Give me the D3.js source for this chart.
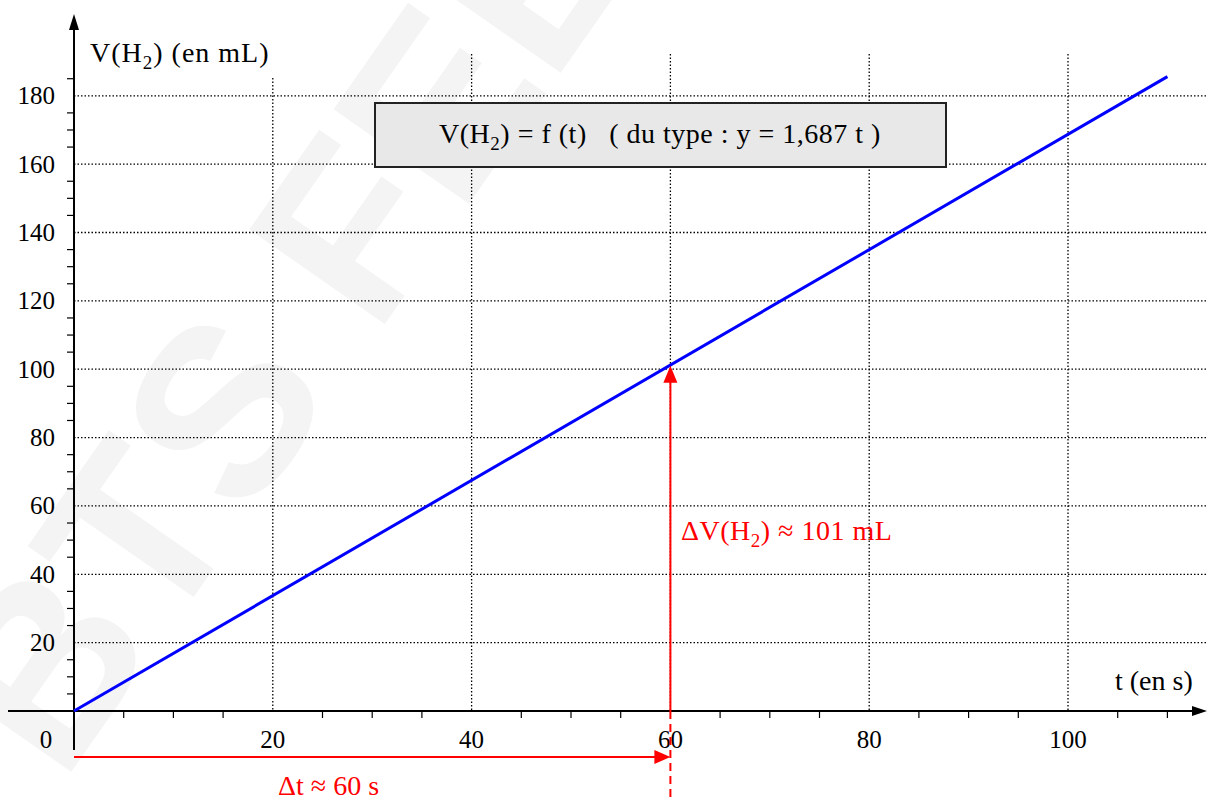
<!DOCTYPE html>
<html><head><meta charset="utf-8">
<script src="https://cdn.jsdelivr.net/npm/d3@7"></script>
<style>
html,body{margin:0;padding:0;background:#fff;}
svg text{font-family:"Liberation Serif","Times New Roman",serif;white-space:pre;}
</style></head>
<body>
<svg id="chart" width="1207" height="800"></svg>
<script>
// ---- data ----
const xTicks = [0, 20, 40, 60, 80, 100];
const yTicks = [20, 40, 60, 80, 100, 120, 140, 160, 180];
const xMinor = [5,10,15,25,30,35,45,50,55,65,70,75,85,90,95,105,110,115];
const yMinor = [5,10,15,25,30,35,45,50,55,65,70,75,85,90,95,105,110,115,125,130,135,145,150,155,165,170,175,185];
const lineT = [0, 110];          // t (s)
const lineV = [0, 185.6];        // V(H2) (mL)
const deltaT = 60;               // s
const deltaV = 101;              // mL
const slopeLabel = "1,687";

const svg = d3.select("#chart");
const x = d3.scaleLinear().domain([0, 100]).range([74, 1068]);
const y = d3.scaleLinear().domain([0, 180]).range([711, 95.8]);
const W = 1207;

// watermark
svg.append("text")
  .attr("transform", "translate(62,785) rotate(-55)")
  .attr("font-size", 240)
  .style("font-family", "'Liberation Sans', Arial, sans-serif")
  .attr("font-weight", "bold")
  .attr("fill", "#f4f4f4")
  .text("BTS FEE");

// grid
const g = svg.append("g");
g.selectAll(".vgrid").data(xTicks.filter(d => d > 0)).join("line")
  .attr("x1", d => x(d)).attr("x2", d => x(d))
  .attr("y1", d => d === 20 ? 78 : 54).attr("y2", y(0))
  .attr("stroke", "#000").attr("stroke-width", 1.3).attr("stroke-dasharray", "1.5,2");
g.selectAll(".hgrid").data(yTicks).join("line")
  .attr("x1", x(0)).attr("x2", W)
  .attr("y1", d => y(d)).attr("y2", d => y(d))
  .attr("stroke", "#000").attr("stroke-width", 1.3).attr("stroke-dasharray", "1.5,2");

// axes
svg.append("line").attr("x1", 8).attr("x2", W - 8).attr("y1", y(0)).attr("y2", y(0))
  .attr("stroke", "#000").attr("stroke-width", 2);
svg.append("path").attr("d", `M${W},${y(0)} L${W-15},${y(0)-5} L${W-15},${y(0)+5} Z`).attr("fill", "#000");
svg.append("line").attr("x1", x(0)).attr("x2", x(0)).attr("y1", 28).attr("y2", 750)
  .attr("stroke", "#000").attr("stroke-width", 2);
svg.append("path").attr("d", `M${x(0)},14 L${x(0)-5},30 L${x(0)+5},30 Z`).attr("fill", "#000");

// minor ticks
svg.selectAll(".xm").data(xMinor).join("line")
  .attr("x1", d => x(d)).attr("x2", d => x(d)).attr("y1", y(0)).attr("y2", y(0) + 7)
  .attr("stroke", "#000").attr("stroke-width", 1.2);
svg.selectAll(".ym").data(yMinor).join("line")
  .attr("x1", x(0) - 7).attr("x2", x(0)).attr("y1", d => y(d)).attr("y2", d => y(d))
  .attr("stroke", "#000").attr("stroke-width", 1.2);

// tick labels
svg.selectAll(".xl").data(xTicks).join("text")
  .attr("x", d => d === 0 ? 46 : x(d)).attr("y", 748)
  .attr("text-anchor", "middle").attr("font-size", 25).attr("fill", "#000")
  .text(d => d);
svg.selectAll(".yl").data(yTicks).join("text")
  .attr("x", 55).attr("y", d => y(d) + 8.5)
  .attr("text-anchor", "end").attr("font-size", 25).attr("fill", "#000")
  .text(d => d);

// axis titles
const yt = svg.append("text").attr("x", 90).attr("y", 62).attr("font-size", 28)
  .attr("letter-spacing", 1).attr("fill", "#000");
yt.append("tspan").text("V(H");
yt.append("tspan").attr("font-size", 19).attr("dy", 7).text("2");
yt.append("tspan").attr("dy", -7).text(") (en mL)");
svg.append("text").attr("x", 1115).attr("y", 690).attr("font-size", 28).attr("fill", "#000").text("t (en s)");

// equation box
svg.append("rect").attr("x", 375).attr("y", 103).attr("width", 571).attr("height", 64)
  .attr("fill", "#e8e8e8").attr("stroke", "#222").attr("stroke-width", 2);
const bt = svg.append("text").attr("x", 660).attr("y", 143).attr("text-anchor", "middle")
  .attr("font-size", 28).attr("letter-spacing", 0.5).attr("fill", "#000");
bt.append("tspan").text("V(H");
bt.append("tspan").attr("font-size", 19).attr("dy", 7).text("2");
bt.append("tspan").attr("dy", -7).text(") = f (t)   ( du type : y = " + slopeLabel + " t )");

// blue line
const line = d3.line().x(d => x(d[0])).y(d => y(d[1]));
svg.append("path").datum(lineT.map((t, i) => [t, lineV[i]]))
  .attr("d", line).attr("fill", "none").attr("stroke", "#0000ff").attr("stroke-width", 3);

// red annotations
const red = "#ff0000";
const xd = x(deltaT), yd = y(deltaV);
svg.append("line").attr("x1", xd).attr("x2", xd).attr("y1", y(0)).attr("y2", yd + 14)
  .attr("stroke", red).attr("stroke-width", 2);
svg.append("path").attr("d", `M${xd},${yd} L${xd-7},${yd+17} L${xd+7},${yd+17} Z`).attr("fill", red);
svg.append("line").attr("x1", xd).attr("x2", xd).attr("y1", y(0)).attr("y2", 800)
  .attr("stroke", red).attr("stroke-width", 2).attr("stroke-dasharray", "8,5");
const ya = 757;
svg.append("line").attr("x1", x(0)).attr("x2", xd - 14).attr("y1", ya).attr("y2", ya)
  .attr("stroke", red).attr("stroke-width", 2);
svg.append("path").attr("d", `M${xd},${ya} L${xd-16},${ya-7} L${xd-16},${ya+7} Z`).attr("fill", red);

const dv = svg.append("text").attr("x", 681).attr("y", 540).attr("font-size", 28)
  .attr("letter-spacing", 0.5).attr("fill", red);
dv.append("tspan").text("ΔV(H");
dv.append("tspan").attr("font-size", 19).attr("dy", 7).text("2");
dv.append("tspan").attr("dy", -7).text(") ≈ " + deltaV + " mL");
svg.append("text").attr("x", 278).attr("y", 795).attr("font-size", 28).attr("fill", red)
  .text("Δt ≈ " + deltaT + " s");
</script>
</body></html>
